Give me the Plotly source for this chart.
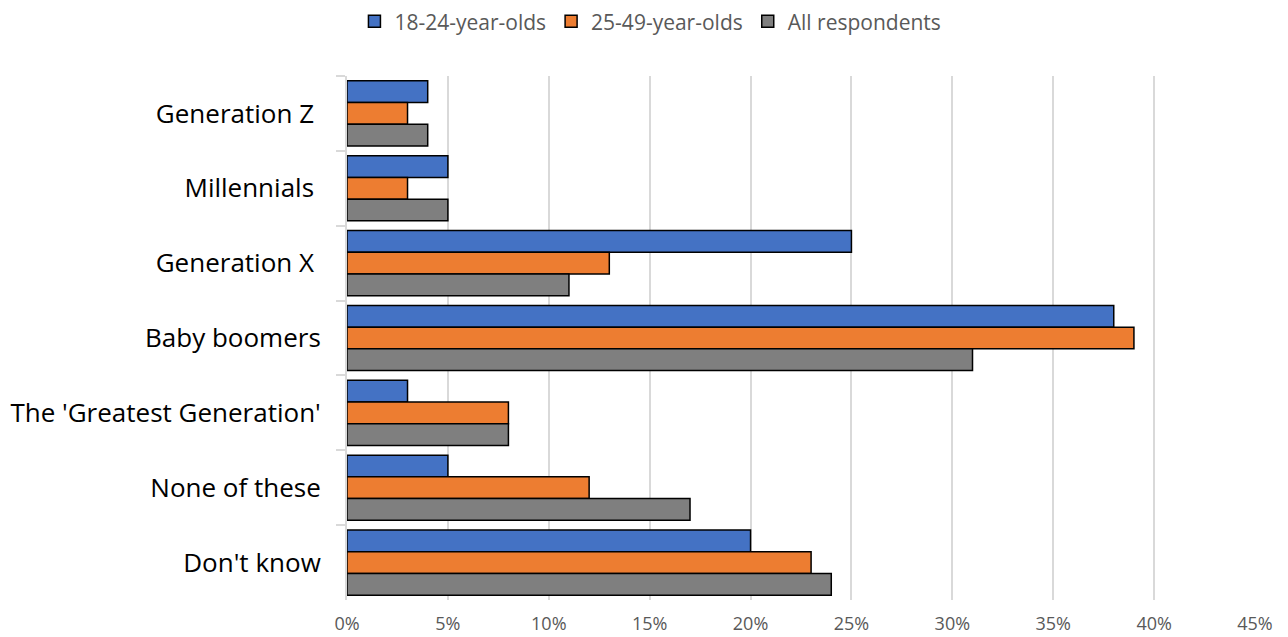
import plotly.graph_objects as go

categories = [
    "Generation Z\u00a0",
    "Millennials\u00a0",
    "Generation X\u00a0",
    "Baby boomers",
    "The 'Greatest Generation'",
    "None of these",
    "Don't know",
]
series_names = ["18-24-year-olds", "25-49-year-olds", "All respondents"]
young = [0.04, 0.05, 0.25, 0.38, 0.03, 0.05, 0.20]
mid = [0.03, 0.03, 0.13, 0.39, 0.08, 0.12, 0.23]
all_resp = [0.04, 0.05, 0.11, 0.31, 0.08, 0.17, 0.24]
colors = ["#4472C4", "#ED7D31", "#7F7F7F"]
tick_vals = [i * 0.05 for i in range(10)]
tick_text = [f"{i * 5}%" for i in range(10)]

fig = go.Figure()
for name, vals, col in zip(series_names, [young, mid, all_resp], colors):
    fig.add_trace(go.Bar(
        y=categories, x=vals, name=name, orientation="h",
        marker=dict(color=col, line=dict(color="#000000", width=1.5)),
    ))

fig.update_layout(
    width=1288, height=637,
    barmode="group", bargap=0.13, bargroupgap=0,
    plot_bgcolor="white", paper_bgcolor="white",
    margin=dict(l=347, r=33, t=76, b=37),
    font=dict(family="Open Sans, sans-serif", color="#595959"),
    legend=dict(orientation="h", xref="container", x=0.505, xanchor="center",
                yref="container", y=0.966, yanchor="middle",
                font=dict(size=21, color="#595959"),
                itemwidth=30, traceorder="normal"),
    xaxis=dict(range=[0, 0.45], tickvals=tick_vals, ticktext=tick_text,
               showgrid=True, gridcolor="#D9D9D9", gridwidth=2,
               zeroline=False, showline=False, ticks="",
               ticklabelstandoff=11, automargin=False,
               tickfont=dict(size=18, color="#595959")),
    yaxis=dict(autorange="reversed", tickson="boundaries", ticks="outside",
               ticklen=9, tickcolor="#D9D9D9", tickwidth=2,
               showline=True, linecolor="#D9D9D9", linewidth=2,
               ticklabelstandoff=19, automargin=False,
               tickfont=dict(size=26, color="#000000")),
)

fig.write_html("out.html")
